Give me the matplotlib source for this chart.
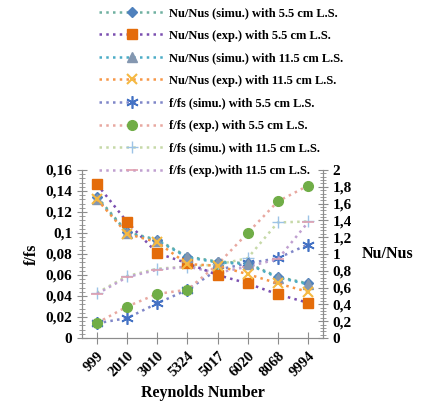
import matplotlib.pyplot as plt
from matplotlib.ticker import MultipleLocator, AutoMinorLocator, FuncFormatter

# categories (Reynolds number)
reynolds = ['999', '2010', '3010', '5324', '5017', '6020', '8068', '9994']

# Nu/Nus (right axis)
nu_simu_55 = [1.68, 1.26, 1.17, 0.97, 0.91, 0.89, 0.73, 0.65]
nu_exp_55 = [1.83, 1.38, 1.01, 0.89, 0.75, 0.65, 0.52, 0.42]
nu_simu_115 = [1.66, 1.25, 1.16, 0.96, 0.90, 0.88, 0.72, 0.64]
nu_exp_115 = [1.65, 1.24, 1.14, 0.88, 0.86, 0.76, 0.65, 0.55]

# f/fs (left axis)
f_simu_55 = [0.014, 0.019, 0.033, 0.046, 0.065, 0.071, 0.076, 0.089]
f_exp_55 = [0.0143, 0.030, 0.042, 0.046, 0.070, 0.100, 0.130, 0.145]
f_simu_115 = [0.043, 0.059, 0.066, 0.068, 0.070, 0.076, 0.110, 0.111]
f_exp_115 = [0.042, 0.058, 0.065, 0.068, 0.062, 0.068, 0.075, 0.110]

plt.rcParams['font.family'] = ['Liberation Serif', 'DejaVu Serif']
plt.rcParams['font.weight'] = 'bold'

fig = plt.figure(figsize=(4.3, 4.12), dpi=100)
ax = fig.add_axes([0.1907, 0.1796, 0.5603, 0.4078])
ax2 = ax.twinx()

x = list(range(len(reynolds)))
ls = (0, (1, 1.7))
lw = 1.8

h = []
h += ax2.plot(x, nu_simu_55, linestyle=ls, lw=lw, color='#6fb0a0', marker='D', ms=5,
              mfc='#4f81bd', mec='#4f81bd', label='Nu/Nus (simu.) with 5.5 cm L.S.')
h += ax2.plot(x, nu_exp_55, linestyle=ls, lw=lw, color='#7a4fb0', marker='s', ms=7,
              mfc='#e46c0a', mec='#e46c0a', label='Nu/Nus (exp.) with 5.5 cm L.S.')
h += ax2.plot(x, nu_simu_115, linestyle=ls, lw=lw, color='#4bacc6', marker='^', ms=7,
              mfc='#8497b0', mec='#8497b0', label='Nu/Nus (simu.) with 11.5 cm L.S.')
h += ax2.plot(x, nu_exp_115, linestyle=ls, lw=lw, color='#f79646', marker='x', ms=7, mew=1.5,
              mfc='#ffc000', mec='#f5b942', label='Nu/Nus (exp.) with 11.5 cm L.S.')
h += ax.plot(x, f_simu_55, linestyle=ls, lw=lw, color='#7f86c8', marker=(6, 2, 0), ms=9, mew=1.2,
             mec='#4472c4', label='f/fs (simu.) with 5.5 cm L.S.')
h += ax.plot(x, f_exp_55, linestyle=ls, lw=lw, color='#e8a8a0', marker='o', ms=7,
             mfc='#70ad47', mec='#70ad47', label='f/fs (exp.) with 5.5 cm L.S.')
h += ax.plot(x, f_simu_115, linestyle=ls, lw=lw, color='#c6d9a8', marker='+', ms=9, mew=1.0,
             mec='#9dc3e6', label='f/fs (simu.) with 11.5 cm L.S.')
h += ax.plot(x, f_exp_115, linestyle=ls, lw=lw, color='#c0a0d0', marker='_', ms=8, mew=1.2,
             mec='#e0a0b0', label='f/fs (exp.)with 11.5 cm L.S.')

ax.set_xlim(-0.5, 7.5)
ax.set_ylim(0, 0.16)
ax2.set_ylim(0, 2)

comma = FuncFormatter(lambda v, p: ('%g' % round(v, 3)).replace('.', ','))
ax.yaxis.set_major_locator(MultipleLocator(0.02))
ax.yaxis.set_minor_locator(AutoMinorLocator(5))
ax.yaxis.set_major_formatter(comma)
ax2.yaxis.set_major_locator(MultipleLocator(0.2))
ax2.yaxis.set_minor_locator(AutoMinorLocator(5))
ax2.yaxis.set_major_formatter(comma)

ax.set_xticks(x)
ax.set_xticklabels(reynolds, rotation=45, ha='right', rotation_mode='anchor', fontsize=10.5, fontweight='bold')

axis_col = '#8c8c8c'
for a in (ax, ax2):
    for s in a.spines.values():
        s.set_color(axis_col)
    a.spines['top'].set_visible(False)
    a.tick_params(which='both', direction='inout', color=axis_col)
    a.tick_params(axis='y', labelsize=11)
    a.tick_params(which='major', length=7)
    a.tick_params(which='minor', length=4)
ax.tick_params(axis='x', length=8, pad=4)
for lab in ax.get_yticklabels() + ax2.get_yticklabels():
    lab.set_fontweight('bold')

ax.set_xlabel('Reynolds Number', fontsize=11.5, fontweight='bold', labelpad=4)
ax.set_ylabel('f/fs', fontsize=11.5, fontweight='bold', labelpad=4)
ax2.set_ylabel('Nu/Nus', fontsize=11.5, fontweight='bold', rotation=0, va='center', labelpad=26)

fig.legend(handles=h, loc='upper left', bbox_to_anchor=(0.215, 1.0), frameon=False,
           handlelength=5.2, numpoints=1, labelspacing=0.85,
           handletextpad=0.4, borderaxespad=0.15, prop={'weight': 'bold', 'size': 9})

fig.savefig('out.png', dpi=100)
